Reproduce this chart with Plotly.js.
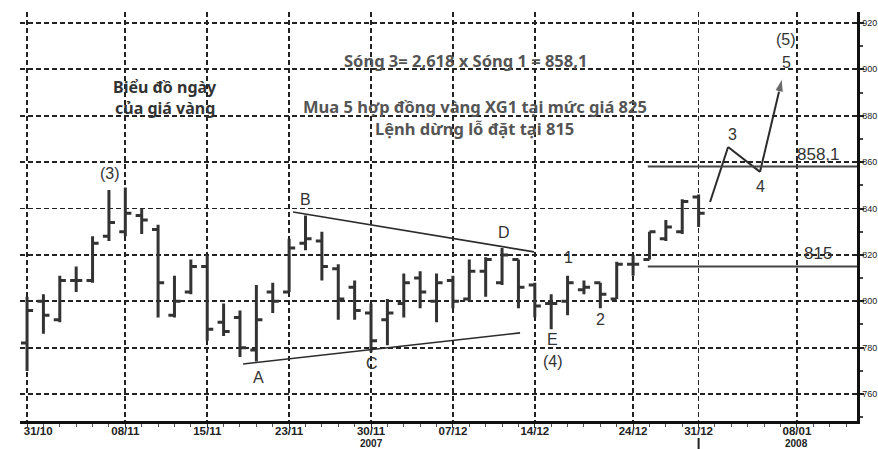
<!DOCTYPE html>
<html>
<head>
<meta charset="utf-8">
<script src="https://cdn.plot.ly/plotly-3.0.1.min.js"></script>
<style>html,body{margin:0;padding:0;background:#fff;}#chart{width:878px;height:449px;}</style>
</head>
<body>
<div id="chart"></div>
<script>
// Trading-day slots (x positions are slot indices)
const tradingDays = ['31/10','01/11','02/11','05/11','06/11','07/11','08/11','09/11','12/11','13/11','14/11','15/11','16/11','19/11','20/11','21/11','23/11','26/11','27/11','28/11','29/11','30/11','03/12','04/12','05/12','06/12','07/12','10/12','11/12','12/12','13/12','14/12','17/12','18/12','19/12','20/12','21/12','24/12','26/12','27/12','28/12','31/12','01/01','02/01','03/01','04/01','07/01','08/01'];
const tickLabels = ['31/10','08/11','15/11','23/11','30/11','07/12','14/12','24/12','31/12','08/01'];
const yearLabels = [['30/11','2007'],['08/01','2008']];
const priceTicks = [760,780,800,820,840,860,880,900,920];

// Daily gold prices (USD/oz)
const openP  = [782,800,792,809,809,828,830,837,831,794,804,815,791,793,779,804,804,825,826,814,806,795,792,799,810,800,809,801,813,808,818,807,799,800,805,808,801,816,818,827,830,845];
const highP  = [802,803,811,815,828,848,849,840,833,811,818,820,799,796,807,808,827,837,830,816,809,799,801,812,813,812,811,818,819,823,818,808,803,811,809,808,817,820,830,835,844,846];
const lowP   = [770,786,791,804,808,826,828,829,793,793,803,783,785,776,774,795,804,822,809,792,792,778,781,793,797,791,797,800,802,807,797,793,788,794,803,797,801,811,818,826,829,832];
const closeP = [796,794,809,809,825,834,838,835,808,800,815,788,787,780,792,800,823,827,815,801,796,783,795,808,804,808,800,813,818,820,806,798,799,808,806,803,816,816,830,832,843,838];

// Triangle trend lines (slot index, price)
const lineAC_x = [13.19, 30.1],  lineAC_y = [773, 786.4];
const lineBD_x = [16.24, 30.95], lineBD_y = [838.5, 821.3];
// Projected wave 3-4-5
const waveX = [41.7, 42.8, 44.75, 46.1];
const waveY = [842.8, 866.5, 855.8, 896];
// Target / stop levels
const levels = [858.1, 815];
const levelLabels = ['858,1', '815'];
const levelStart = 37.9;

// Wave labels
const waveLabels = [
  ['(3)', 5.07, 855.3], ['A', 14.1, 767], ['B', 16.97, 843.7], ['C', 21.06, 773],
  ['D', 29.12, 829.5], ['E', 32.05, 783.4], ['(4)', 32.1, 773.9], ['1', 33.03, 818.7],
  ['2', 35, 792], ['3', 43.04, 871.7], ['4', 44.75, 849.3], ['5', 46.34, 902.8], ['(5)', 46.34, 912.7]
];
const notes = [
  ['Biểu đồ ngày', 8.42, 892.4, 16, '#333'],
  ['của giá vàng', 8.42, 883.2, 16, '#333'],
  ['Sóng 3= 2,618 x Sóng 1 = 858,1', 26.75, 904, 16.5, '#555'],
  ['Mua 5 hợp đồng vàng XG1 tại mức giá 825', 27.35, 883.8, 16.5, '#555'],
  ['Lệnh dừng lỗ đặt tại 815', 27.3, 874.7, 16.5, '#555']
];

const xIdx = openP.map((_, i) => i);
const xMax = 50.67;
const ink = '#2b2b2b';

const traces = [
  {
    type: 'ohlc', x: xIdx, open: openP, high: highP, low: lowP, close: closeP,
    increasing: {line: {color: '#333', width: 3}},
    decreasing: {line: {color: '#333', width: 3}},
    tickwidth: 0.37, hoverinfo: 'skip', showlegend: false
  },
  {type: 'scatter', mode: 'lines', x: lineAC_x, y: lineAC_y, line: {color: ink, width: 1.6}, hoverinfo: 'skip', showlegend: false},
  {type: 'scatter', mode: 'lines', x: lineBD_x, y: lineBD_y, line: {color: ink, width: 1.6}, hoverinfo: 'skip', showlegend: false},
  {type: 'scatter', mode: 'lines+markers', x: waveX, y: waveY,
   line: {color: ink, width: 2},
   marker: {symbol: 'arrow', angleref: 'previous', size: waveX.map((_, i) => i === waveX.length - 1 ? 14 : 0), color: ink},
   hoverinfo: 'skip', showlegend: false}
];
levels.forEach(v => traces.push({
  type: 'scatter', mode: 'lines', x: [levelStart, xMax], y: [v, v],
  line: {color: '#444', width: 2}, hoverinfo: 'skip', showlegend: false, cliponaxis: false
}));

const annotations = [];
waveLabels.forEach(([t, x, y]) => annotations.push({
  text: t, x: x, y: y, xref: 'x', yref: 'y', showarrow: false,
  font: {family: 'Liberation Sans, Arial, sans-serif', size: 16, color: '#333'}
}));
levels.forEach((v, i) => annotations.push({
  text: levelLabels[i], x: 48.3, y: v, xref: 'x', yref: 'y', showarrow: false,
  yanchor: 'bottom', yshift: 1,
  font: {family: 'Liberation Sans, Arial, sans-serif', size: 17, color: '#333'}
}));
notes.forEach(([t, x, y, s, c]) => annotations.push({
  text: t, x: x, y: y, xref: 'x', yref: 'y', showarrow: false,
  font: {family: 'Noto Sans, Open Sans, sans-serif', size: s, color: c, weight: 700}
}));
yearLabels.forEach(([d, t]) => annotations.push({
  text: t, x: tradingDays.indexOf(d), y: 0, xref: 'x', yref: 'paper', showarrow: false,
  yanchor: 'top', yshift: -16, borderpad: 0,
  font: {family: 'Liberation Sans, Arial, sans-serif', size: 10, color: '#222', weight: 700}
}));

const pad = s => (s === tickLabels[0] ? '\u00a0'.repeat(7) + s : s);

const layout = {
  width: 878, height: 449,
  margin: {l: 20, r: 21, t: 12, b: 28},
  paper_bgcolor: '#fff', plot_bgcolor: '#fff',
  showlegend: false, hovermode: false,
  xaxis: {
    range: [-0.43, xMax], rangeslider: {visible: false},
    tickmode: 'array', tickvals: tickLabels.map(d => tradingDays.indexOf(d)), ticktext: tickLabels.map(pad),
    showgrid: true, gridcolor: '#222', gridwidth: 1.7, griddash: '5px,3px',
    showline: true, linecolor: '#111', linewidth: 2.5,
    ticks: 'outside', ticklen: 4, tickcolor: '#333', tickwidth: 1,
    ticklabelstandoff: -6,
    minor: {tickmode: 'linear', tick0: 0, dtick: 1, ticklen: 3, tickcolor: '#555', showgrid: false},
    tickfont: {family: 'Liberation Sans, Arial, sans-serif', size: 11.5, color: '#222', weight: 700},
    zeroline: false, fixedrange: true
  },
  yaxis: {
    side: 'right', range: [748.4, 924.7],
    tickmode: 'array', tickvals: priceTicks, ticktext: priceTicks.map(String),
    showgrid: true, gridcolor: '#222', gridwidth: 1.7, griddash: '5px,3px',
    showline: true, linecolor: '#111', linewidth: 2.5,
    ticks: 'outside', ticklen: 4, tickwidth: 2, tickcolor: '#222',
    ticklabelstandoff: -3,
    minor: {tickmode: 'linear', tick0: 750, dtick: 10, ticklen: 3, tickcolor: '#444', showgrid: false},
    tickfont: {family: 'Liberation Sans, Arial, sans-serif', size: 9, color: '#222'},
    zeroline: false, fixedrange: true
  },
  annotations: annotations,
  shapes: [{
    type: 'line', xref: 'x', yref: 'paper', x0: tradingDays.indexOf('31/12'), x1: tradingDays.indexOf('31/12'),
    ysizemode: 'pixel', yanchor: 0, y0: -17, y1: -28, line: {color: '#222', width: 2}
  }]
};

Plotly.newPlot('chart', traces, layout, {staticPlot: true, displayModeBar: false});
</script>
</body>
</html>
